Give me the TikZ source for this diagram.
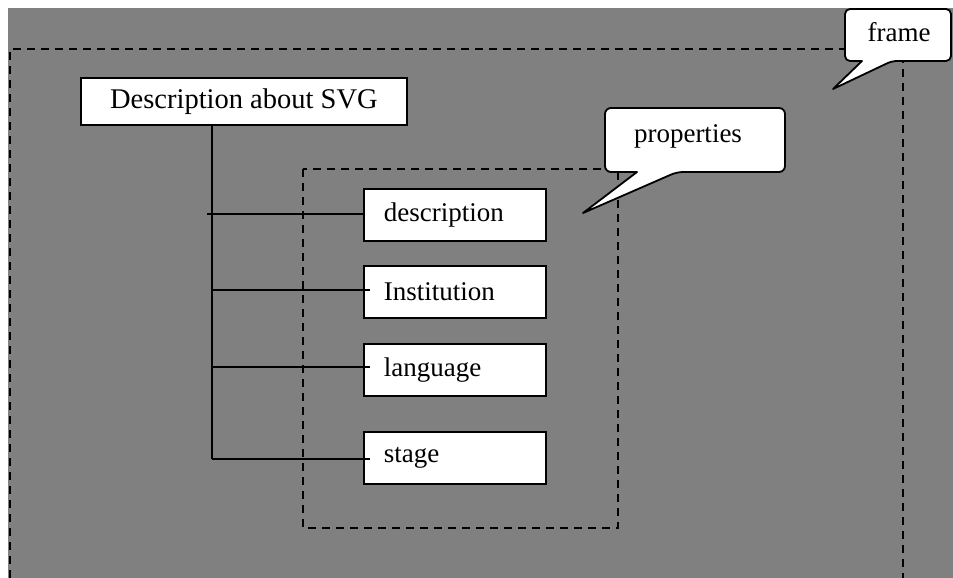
\documentclass[tikz,border=0pt]{standalone}
\usepackage{fontspec}
\setmainfont{Liberation Serif}
\definecolor{canvas}{RGB}{128,128,128}
\tikzset{
  ln/.style={line width=1.8pt, black},
  dashln/.style={line width=1.8pt, black, dash pattern=on 8pt off 6pt},
  box/.style={draw, ln, fill=white, minimum height=52pt, anchor=north west,
    text width=142pt, inner xsep=20pt, align=left, font=\fontsize{27}{30}\selectfont},
  callout/.style={draw, ln, fill=white, line join=round},
  label/.style={anchor=base, font=\fontsize{27}{30}\selectfont, inner sep=0pt}
}
\begin{document}
\begin{tikzpicture}[x=1pt, y=-1pt]
  % page and canvas
  \useasboundingbox (0,0) rectangle (953,578);
  \fill[white] (0,0) rectangle (953,578);
  \fill[canvas] (8,8) rectangle (953,578);

  % dashed outer frame (open at the bottom)
  \draw[dashln] (10,578) -- (10,49) -- (903,49) -- (903,578);

  % dashed properties group
  \draw[dashln] (303,169) rectangle (618,528);

  % root box
  \node[draw, ln, fill=white, anchor=north west, minimum width=326pt, minimum height=47pt,
        font=\fontsize{28.5}{30}\selectfont] (root) at (80,77) {Description about SVG};

  % property boxes
  \node[box] (desc) at (363,188) {description};
  \node[box] (inst) at (363,265) {Institution};
  \node[box] (lang) at (363,343) {language};
  \node[box] (stage) at (363,431) {stage};

  % tree connectors
  \coordinate (trunk) at (root.south -| 212,0);
  \coordinate (j1) at (207,214);
  \coordinate (j2) at (212,290);
  \coordinate (j3) at (212,367);
  \coordinate (j4) at (212,459);
  \draw[ln] (trunk) -- (j4);
  \draw[ln] (j1) -- (j1 -| desc.west);
  \draw[ln] (j2) -- ([xshift=7pt]j2 -| inst.west);
  \draw[ln] (j3) -- ([xshift=7pt]j3 -| lang.west);
  \draw[ln, line join=miter] (j4) -- ([xshift=7pt]j4 -| stage.west);

  % callout: properties
  \draw[callout]
    [rounded corners=6pt] (637,172) -- (605,172) -- (605,108) -- (785,108) -- (785,172) -- (677,172)
    [sharp corners] -- (583,213) -- (637,172) -- cycle;
  \node[label] (propt) at (688,142) {properties};

  % callout: frame
  \draw[callout]
    [rounded corners=5pt] (862,61) -- (845,61) -- (845,9) -- (951,9) -- (951,61) -- (892,61)
    [sharp corners] -- (833,89) -- (862,61) -- cycle;
  \node[label] (framet) at (899,42) {frame};
\end{tikzpicture}
\end{document}
